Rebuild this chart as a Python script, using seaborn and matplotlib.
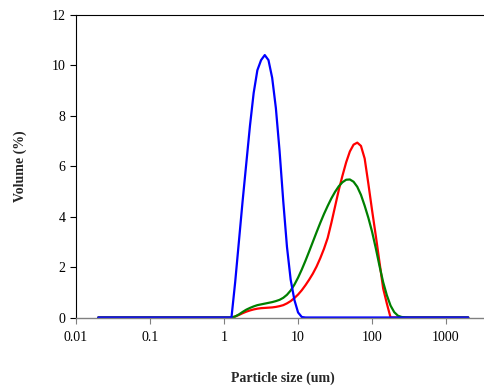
import numpy as np
import pandas as pd
import matplotlib
matplotlib.use('Agg')
import matplotlib.pyplot as plt
import seaborn as sns

# Particle size classes (um) and volume (%)
size_blue = [0.02, 1.262, 1.416, 1.589, 1.783, 2.000, 2.244, 2.518, 2.825, 3.170,
             3.557, 3.991, 4.477, 5.024, 5.637, 6.325, 7.096, 7.962, 8.934,
             10.024, 11.247, 12.619, 2000]
vol_blue = [0, 0, 1.4, 3.0, 4.6, 6.1, 7.6, 8.9, 9.8, 10.2,
            10.4, 10.2, 9.5, 8.3, 6.6, 4.6, 2.8, 1.5, 0.7,
            0.2, 0.02, 0, 0]

size_rg = [0.02, 1.262, 1.416, 1.589, 1.783, 2.000, 2.244, 2.518, 2.825, 3.170,
           3.557, 3.991, 4.477, 5.024, 5.637, 6.325, 7.096, 7.962, 8.934,
           10.024, 11.247, 12.619, 14.159, 15.887, 17.825, 20.000, 22.440,
           25.179, 28.251, 31.698, 35.566, 39.905, 44.774, 50.238, 56.368,
           63.246, 70.963, 79.621, 89.337, 100.237, 112.468, 126.191, 141.589,
           158.866, 178.250, 200.000, 224.404, 251.785, 282.508, 316.979, 2000]
vol_red = [0, 0, 0.04, 0.10, 0.17, 0.23, 0.28, 0.32, 0.35, 0.37,
           0.38, 0.39, 0.40, 0.42, 0.45, 0.49, 0.56, 0.65, 0.77,
           0.91, 1.08, 1.28, 1.50, 1.74, 2.02, 2.35, 2.72,
           3.15, 3.75, 4.40, 5.05, 5.62, 6.15, 6.58, 6.85,
           6.93, 6.80, 6.30, 5.30, 4.25, 3.25, 2.20, 1.15,
           0.55, 0, 0, 0, 0, 0, 0, 0]
vol_green = [0, 0, 0.04, 0.12, 0.22, 0.31, 0.38, 0.44, 0.49, 0.52,
             0.55, 0.58, 0.61, 0.65, 0.70, 0.78, 0.90, 1.07, 1.30,
             1.58, 1.90, 2.25, 2.62, 3.00, 3.38, 3.75, 4.10,
             4.42, 4.72, 4.98, 5.20, 5.36, 5.46, 5.47, 5.38,
             5.18, 4.86, 4.43, 3.95, 3.40, 2.75, 2.05, 1.40,
             0.88, 0.47, 0.21, 0.07, 0.02, 0.005, 0, 0]

sns.set_style('ticks')
plt.rcParams['font.family'] = ['Liberation Serif', 'DejaVu Serif']

fig = plt.figure(figsize=(4.85, 3.89), dpi=100)
ax = fig.add_axes([0.1567, 0.1838, 0.8544, 0.7784])

df_rg = pd.DataFrame({'size': size_rg, 'red': vol_red, 'green': vol_green})
df_b = pd.DataFrame({'size': size_blue, 'blue': vol_blue})

sns.lineplot(data=df_rg, x='size', y='red', color='#ff0000', lw=1.6, ax=ax)
sns.lineplot(data=df_rg, x='size', y='green', color='#008000', lw=1.6, ax=ax)
sns.lineplot(data=df_b, x='size', y='blue', color='#0000ff', lw=1.6, ax=ax)

ax.set_xscale('log')
ax.set_xlim(0.01, 10 ** 3.6)
ax.set_ylim(0, 12)
ax.set_xticks([0.01, 0.1, 1, 10, 100, 1000])
ax.set_xticklabels(['0.01', '0.1', '1', '10', '100', '1000'])
ax.xaxis.set_minor_locator(matplotlib.ticker.NullLocator())
ax.set_yticks(range(0, 13, 2))

ax.tick_params(axis='both', labelsize=10, length=4, width=0.8, direction='out', colors='black')
ax.tick_params(axis='x', color='#808080', pad=6)
for s in ['left', 'top']:
    ax.spines[s].set_color('black')
    ax.spines[s].set_linewidth(0.8)
ax.spines['bottom'].set_color('#808080')
ax.spines['bottom'].set_linewidth(1.0)
ax.spines['right'].set_visible(False)
ax.spines['top'].set_visible(True)

# axis titles placed like the original
ax.set_xlabel('')
ax.set_ylabel('')
fig.text(0.5835, 0.028, 'Particle size (um)', fontsize=10, fontweight='bold',
         ha='center', va='center')
fig.text(0.041, 0.573, 'Volume (%)', fontsize=10, fontweight='bold',
         ha='center', va='center', rotation=90)

fig.savefig('out.png', dpi=100)
